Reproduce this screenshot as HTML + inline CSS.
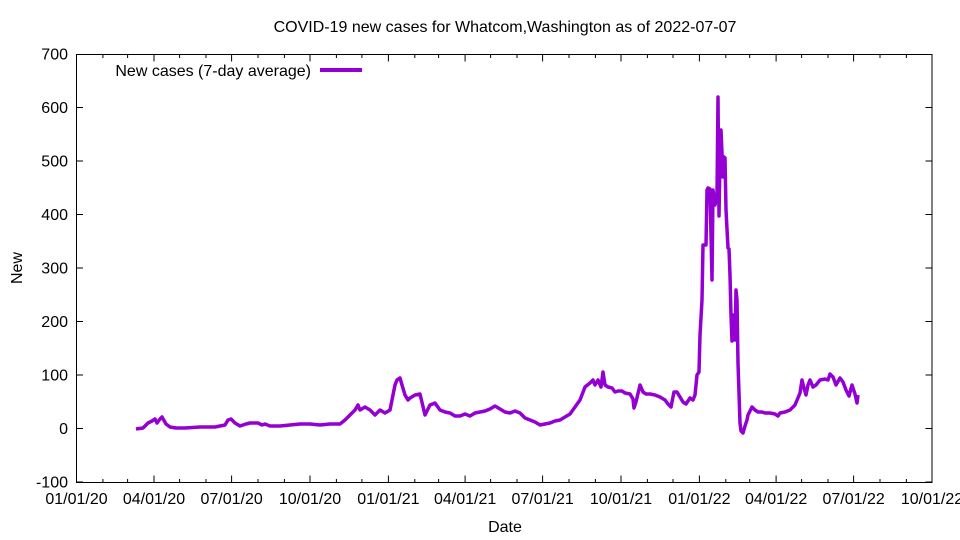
<!DOCTYPE html>
<html><head><meta charset="utf-8"><style>body{margin:0;background:#fff}svg{display:block}text{font-family:"Liberation Sans",sans-serif;font-size:16px;fill:#000}</style></head><body>
<svg width="960" height="540" xmlns="http://www.w3.org/2000/svg">
<rect width="960" height="540" fill="#fff"/>
<text x="505" y="32" text-anchor="middle">COVID-19 new cases for Whatcom,Washington as of 2022-07-07</text>
<rect x="76.5" y="54.5" width="855.5" height="428" stroke="#000" stroke-width="1" fill="none"/>
<path stroke="#000" stroke-width="1" fill="none" d="
M76.5 482H83 M925.5 482H932
M76.5 428.5H83 M925.5 428.5H932
M76.5 375H83 M925.5 375H932
M76.5 321.5H83 M925.5 321.5H932
M76.5 268H83 M925.5 268H932
M76.5 214.5H83 M925.5 214.5H932
M76.5 161H83 M925.5 161H932
M76.5 107.5H83 M925.5 107.5H932
M154 482.5v-7 M154 54.5v7 M231.6 482.5v-7 M231.6 54.5v7 M310 482.5v-7 M310 54.5v7
M388.4 482.5v-7 M388.4 54.5v7 M465.1 482.5v-7 M465.1 54.5v7 M542.6 482.5v-7 M542.6 54.5v7
M621 482.5v-7 M621 54.5v7 M699.4 482.5v-7 M699.4 54.5v7 M776.1 482.5v-7 M776.1 54.5v7
M853.6 482.5v-7 M853.6 54.5v7
M102.9 482.5v-3.5 M102.9 54.5v3.5 M127.6 482.5v-3.5 M127.6 54.5v3.5
M179.6 482.5v-3.5 M179.6 54.5v3.5 M206 482.5v-3.5 M206 54.5v3.5
M258 482.5v-3.5 M258 54.5v3.5 M284.4 482.5v-3.5 M284.4 54.5v3.5
M336.4 482.5v-3.5 M336.4 54.5v3.5 M361.9 482.5v-3.5 M361.9 54.5v3.5
M414.8 482.5v-3.5 M414.8 54.5v3.5 M438.6 482.5v-3.5 M438.6 54.5v3.5
M490.6 482.5v-3.5 M490.6 54.5v3.5 M517 482.5v-3.5 M517 54.5v3.5
M569 482.5v-3.5 M569 54.5v3.5 M595.4 482.5v-3.5 M595.4 54.5v3.5
M647.4 482.5v-3.5 M647.4 54.5v3.5 M673 482.5v-3.5 M673 54.5v3.5
M725.8 482.5v-3.5 M725.8 54.5v3.5 M749.7 482.5v-3.5 M749.7 54.5v3.5
M801.6 482.5v-3.5 M801.6 54.5v3.5 M828 482.5v-3.5 M828 54.5v3.5
M880 482.5v-3.5 M880 54.5v3.5 M906.4 482.5v-3.5 M906.4 54.5v3.5"/>
<g text-anchor="end">
<text x="68" y="487.5">-100</text><text x="68" y="434">0</text><text x="68" y="380.5">100</text>
<text x="68" y="327">200</text><text x="68" y="273.5">300</text><text x="68" y="220">400</text>
<text x="68" y="166.5">500</text><text x="68" y="113">600</text><text x="68" y="59.5">700</text>
</g>
<g text-anchor="middle">
<text x="76.5" y="504">01/01/20</text><text x="154" y="504">04/01/20</text><text x="231.6" y="504">07/01/20</text>
<text x="310" y="504">10/01/20</text><text x="388.4" y="504">01/01/21</text><text x="465.1" y="504">04/01/21</text>
<text x="542.6" y="504">07/01/21</text><text x="621" y="504">10/01/21</text><text x="699.4" y="504">01/01/22</text>
<text x="776.1" y="504">04/01/22</text><text x="853.6" y="504">07/01/22</text><text x="932" y="504">10/01/22</text>
</g>
<text x="22" y="268" text-anchor="middle" transform="rotate(-90 22 268)">New</text>
<text x="505" y="532" text-anchor="middle">Date</text>
<text x="311" y="76" text-anchor="end">New cases (7-day average)</text>
<line x1="320" y1="70" x2="362" y2="70" stroke="#9400d3" stroke-width="4"/>
<polyline fill="none" stroke="#9400d3" stroke-width="3.5" stroke-linejoin="round" points="136,429 143,428 148,423 152,421 155,419 157,423 160,419 162,417 166,424 170,427 176,428 185,428 200,427 215,427 225,425 228,420 231,419 235,423 240,426 246,424 250,423 258,423 262,425 265,424 270,426 280,426 290,425 300,424 310,424 320,425 330,424 340,424 345,420 350,415 355,410 358,405 360,410 365,407 370,410 375,415 380,410 385,413 390,410 392,400 395,385 397,380 400,378 402,385 405,395 408,400 410,398 415,395 420,394 425,415 430,405 435,403 440,410 445,412 450,413 455,416 460,416 465,414 470,416 475,413 480,412 485,411 490,409 495,406 500,409 505,412 510,413 515,411 520,413 525,418 530,420 535,422 540,425 545,424 550,423 555,421 560,420 565,417 570,414 575,407 580,400 585,387 590,383 593,380 595,385 598,380 601,387 603,372 605,385 608,387 612,388 615,392 618,391 622,391 625,393 630,394 633,399 634,408 636,402 640,385 643,392 646,394 650,394 655,395 660,397 665,400 668,404 671,407 674,392 677,392 680,397 683,402 686,404 690,398 693,400 695,395 697,375 699,372 700,335 702,300 703,245 706,245 707,190 708,188 710,189 712,280 713,190 715,205 717,195 718,97 719,216 720,160 721,130 723,177 724,157 725,158 726,210 728,248 729,249 730,275 731,315 732,341 733,315 735,340 736,290 737,300 738,363 740,423 741,431 743,433 745,426 747,420 748,415 752,407 755,410 758,412 762,412 765,413 770,413 775,414 778,416 780,413 785,412 790,410 795,405 800,393 802,380 804,388 806,395 808,385 810,380 813,387 816,385 820,380 825,379 828,380 830,374 833,377 836,385 840,378 843,382 846,390 849,396 852,385 855,394 857,403 858,395"/>
</svg>
</body></html>
